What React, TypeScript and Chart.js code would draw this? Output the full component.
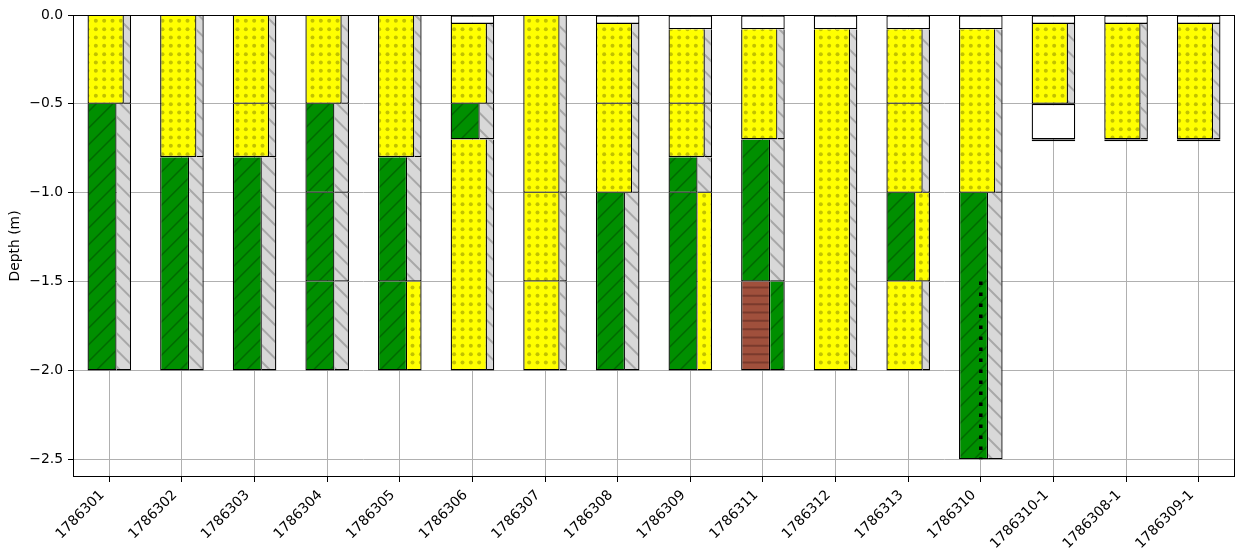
import React, { useEffect, useRef } from "react";
import { Chart, registerables } from "chart.js";

Chart.register(...registerables);

// ---------------- data ----------------
const boreholes = [
  "1786301", "1786302", "1786303", "1786304", "1786305", "1786306",
  "1786307", "1786308", "1786309", "1786311", "1786312", "1786313",
  "1786310", "1786310-1", "1786308-1", "1786309-1",
];

const depthMin = -2.6;
const depthMax = 0;
const depthTicks = [0, -0.5, -1.0, -1.5, -2.0, -2.5];

// [borehole, top (m), bottom (m), main soil, secondary soil]
const layers: [string, number, number, string, string][] = [
  ["1786301", 0, -0.5, "sand", "none"],
  ["1786301", -0.5, -2.0, "clay", "none"],

  ["1786302", 0, -0.8, "sand", "none"],
  ["1786302", -0.8, -2.0, "clay", "none"],

  ["1786303", 0, -0.5, "sand", "none"],
  ["1786303", -0.5, -0.8, "sand", "none"],
  ["1786303", -0.8, -2.0, "clay", "none"],

  ["1786304", 0, -0.5, "sand", "none"],
  ["1786304", -0.5, -1.0, "clay", "none"],
  ["1786304", -1.0, -1.5, "clay", "none"],
  ["1786304", -1.5, -2.0, "clay", "none"],

  ["1786305", 0, -0.8, "sand", "none"],
  ["1786305", -0.8, -1.5, "clay", "none"],
  ["1786305", -1.5, -2.0, "clay", "sand"],

  ["1786306", 0, -0.05, "fill", "none"],
  ["1786306", -0.05, -0.5, "sand", "none"],
  ["1786306", -0.5, -0.7, "clay", "none"],
  ["1786306", -0.7, -2.0, "sand", "none"],

  ["1786307", 0, -1.0, "sand", "none"],
  ["1786307", -1.0, -1.5, "sand", "none"],
  ["1786307", -1.5, -2.0, "sand", "none"],

  ["1786308", 0, -0.05, "fill", "none"],
  ["1786308", -0.05, -0.5, "sand", "none"],
  ["1786308", -0.5, -1.0, "sand", "none"],
  ["1786308", -1.0, -2.0, "clay", "none"],

  ["1786309", 0, -0.08, "fill", "none"],
  ["1786309", -0.08, -0.5, "sand", "none"],
  ["1786309", -0.5, -0.8, "sand", "none"],
  ["1786309", -0.8, -1.0, "clay", "none"],
  ["1786309", -1.0, -2.0, "clay", "sand"],

  ["1786311", 0, -0.08, "fill", "none"],
  ["1786311", -0.08, -0.7, "sand", "none"],
  ["1786311", -0.7, -1.5, "clay", "none"],
  ["1786311", -1.5, -2.0, "peat", "clay"],

  ["1786312", 0, -0.08, "fill", "none"],
  ["1786312", -0.08, -2.0, "sand", "none"],

  ["1786313", 0, -0.08, "fill", "none"],
  ["1786313", -0.08, -0.5, "sand", "none"],
  ["1786313", -0.5, -1.0, "sand", "none"],
  ["1786313", -1.0, -1.5, "clay", "sand"],
  ["1786313", -1.5, -2.0, "sand", "none"],

  ["1786310", 0, -0.08, "fill", "none"],
  ["1786310", -0.08, -1.0, "sand", "none"],
  ["1786310", -1.0, -2.5, "clay", "none"],

  ["1786310-1", 0, -0.05, "fill", "none"],
  ["1786310-1", -0.05, -0.5, "sand", "none"],
  ["1786310-1", -0.5, -0.7, "fill", "none"],
  ["1786310-1", -0.7, -0.71, "fill", "none"],

  ["1786308-1", 0, -0.05, "fill", "none"],
  ["1786308-1", -0.05, -0.7, "sand", "none"],
  ["1786308-1", -0.7, -0.71, "fill", "none"],

  ["1786309-1", 0, -0.05, "fill", "none"],
  ["1786309-1", -0.05, -0.7, "sand", "none"],
  ["1786309-1", -0.7, -0.71, "fill", "none"],
];

// dotted marker line
const dottedHole = "1786310";
const dottedTop = -1.5;
const dottedBottom = -2.5;

// ---------------- styles ----------------
const FONT = { family: "'DejaVu Sans', sans-serif", size: 13.9 };
const HALF = 0.3; // half width of a borehole column (x units)
const GAP = 0.05; // smallest spacing between bar centres (x units)
const mainWidth: Record<string, number> = { sand: 0.5, clay: 0.4, peat: 0.4, fill: 0.6 };
const EDGE = 1.3;

function makePatterns(ctx: CanvasRenderingContext2D) {
  const tile = (size: number, draw: (g: CanvasRenderingContext2D, s: number) => void) => {
    const c = document.createElement("canvas");
    c.width = size;
    c.height = size;
    const g = c.getContext("2d")!;
    draw(g, size);
    return ctx.createPattern(c, "repeat")!;
  };
  const sand = tile(25, (g, s) => {
    g.fillStyle = "#ffff00";
    g.fillRect(0, 0, s, s);
    g.fillStyle = "#c2c200";
    const st = s / 3;
    for (let r = 0; r < 3; r++)
      for (let c = 0; c < 3; c++) {
        g.beginPath();
        g.arc(st / 2 + c * st, st / 2 + r * st, 2.0, 0, Math.PI * 2);
        g.fill();
      }
  });
  const diag = (bg: string, fg: string, lw: number, dir: string) =>
    tile(50, (g, s) => {
      g.fillStyle = bg;
      g.fillRect(0, 0, s, s);
      g.strokeStyle = fg;
      g.lineWidth = lw;
      g.beginPath();
      const st = s / 3;
      for (let k = -5; k <= 9; k++) {
        const c = k * st;
        if (dir === "/") {
          g.moveTo(c + 5, -5);
          g.lineTo(c - 55, 55);
        } else {
          g.moveTo(c - 5, -5);
          g.lineTo(c + 55, 55);
        }
      }
      g.stroke();
    });
  const clay = diag("#008f00", "#006a00", 1.5, "/");
  const none = diag("#d8d8d8", "#a8a8a8", 2, "\\");
  const peat = tile(25, (g, s) => {
    g.fillStyle = "#a0503c";
    g.fillRect(0, 0, s, s);
    g.strokeStyle = "#7a3a2c";
    g.lineWidth = 2;
    g.beginPath();
    const st = s / 3;
    for (let r = 0; r < 3; r++) {
      g.moveTo(0, st / 2 + r * st);
      g.lineTo(s, st / 2 + r * st);
    }
    g.stroke();
  });
  return { sand, clay, none, peat, fill: "#ffffff" } as Record<string, any>;
}

const framePlugin = {
  id: "frame",
  afterDraw(chart: any) {
    const { ctx, chartArea: a } = chart;
    ctx.save();
    ctx.strokeStyle = "#000";
    ctx.lineWidth = 1;
    const l = Math.round(a.left) + 0.5;
    const t = Math.round(a.top) + 0.5;
    const r = Math.round(a.right) - 0.5;
    const b = Math.round(a.bottom) - 0.5;
    ctx.strokeRect(l, t, r - l, b - t);
    ctx.restore();
  },
};

function buildDatasets(pats: Record<string, any>) {
  const groups = new Map<string, any>();
  const add = (key: string, soil: string, width: number, offset: number, role: string, x: number, top: number, bottom: number) => {
    if (!groups.has(key)) groups.set(key, { soil, width, role, points: [] as any[] });
    groups.get(key).points.push({ x: x + offset, y: [top, bottom] });
  };
  for (const [hole, top, bottom, main, side] of layers) {
    const i = boreholes.indexOf(hole);
    const mw = mainWidth[main];
    add("main-" + main, main, mw, -HALF + mw / 2, main === "fill" ? "full" : "main", i, top, bottom);
    if (main !== "fill") {
      const sw = 2 * HALF - mw;
      add("side-" + side + "-" + sw.toFixed(2), side, sw, HALF - sw / 2, "side", i, top, bottom);
    }
  }
  const out: any[] = [];
  groups.forEach((g) => {
    const bw =
      g.role === "side"
        ? { top: 0, left: 0, right: EDGE, bottom: EDGE }
        : g.role === "main"
        ? { top: 0, left: EDGE, right: EDGE, bottom: EDGE }
        : { top: EDGE, left: EDGE, right: EDGE, bottom: EDGE };
    out.push({
      type: "bar",
      data: g.points,
      backgroundColor: pats[g.soil],
      borderColor: "#000000",
      borderWidth: bw,
      borderSkipped: false,
      grouped: false,
      categoryPercentage: 1,
      barPercentage: g.width / GAP,
      order: 1,
    });
  });
  return out;
}

export default function App() {
  const ref = useRef<HTMLCanvasElement>(null);
  useEffect(() => {
    const canvas = ref.current!;
    const ctx = canvas.getContext("2d")!;
    const pats = makePatterns(ctx);
    const hx = boreholes.indexOf(dottedHole);
    const datasets: any[] = [
      {
        type: "line",
        data: [
          { x: hx, y: dottedTop },
          { x: hx, y: dottedBottom },
        ],
        borderColor: "#000000",
        borderWidth: 3.5,
        borderDash: [3.5, 7.5],
        borderCapStyle: "butt",
        pointRadius: 0,
        fill: false,
        order: -1,
      },
      ...buildDatasets(pats),
    ];
    const chart = new Chart(ctx, {
      type: "bar",
      data: { datasets },
      options: {
        animation: false,
        responsive: false,
        devicePixelRatio: 1,
        events: [],
        layout: { padding: { top: 15, right: 10, left: 0, bottom: 0 } },
        plugins: {
          legend: { display: false },
          tooltip: { enabled: false },
        },
        scales: {
          x: {
            type: "linear",
            min: -0.5,
            max: boreholes.length - 0.5,
            offset: false,
            afterBuildTicks: (s: any) => {
              s.ticks = boreholes.map((_, i) => ({ value: i }));
            },
            afterFit: (s: any) => {
              s.height = 83;
            },
            grid: {
              offset: false,
              color: "#b0b0b0",
              lineWidth: 1,
              tickLength: 5,
              tickColor: "#000",
              tickWidth: 1,
            },
            border: { display: false },
            ticks: {
              autoSkip: false,
              maxRotation: 45,
              minRotation: 45,
              padding: 5,
              labelOffset: -7,
              color: "#000",
              font: FONT,
              callback: (v: any) => boreholes[Math.round(Number(v))] ?? "",
            },
          },
          y: {
            type: "linear",
            min: depthMin,
            max: depthMax,
            afterBuildTicks: (s: any) => {
              s.ticks = depthTicks.map((v) => ({ value: v }));
            },
            afterFit: (s: any) => {
              s.width = 73;
            },
            grid: {
              color: "#b0b0b0",
              lineWidth: 1,
              tickLength: 5,
              tickColor: "#000",
              tickWidth: 1,
            },
            border: { display: false },
            ticks: {
              padding: 5,
              color: "#000",
              font: FONT,
              callback: (v: any) => {
                const n = Number(v);
                return (n < -1e-9 ? "\u2212" : "") + Math.abs(n).toFixed(1);
              },
            },
            title: {
              display: true,
              text: "Depth (m)",
              color: "#000",
              font: FONT,
              padding: { top: 7, bottom: 0 },
            },
          },
        },
      } as any,
      plugins: [framePlugin],
    } as any);
    return () => chart.destroy();
  }, []);
  return (
    <div style={{ position: "absolute", left: 0, top: 0, width: 1245, height: 560, background: "#fff" }}>
      <canvas ref={ref} width={1245} height={560} style={{ display: "block", width: 1245, height: 560 }} />
    </div>
  );
}
